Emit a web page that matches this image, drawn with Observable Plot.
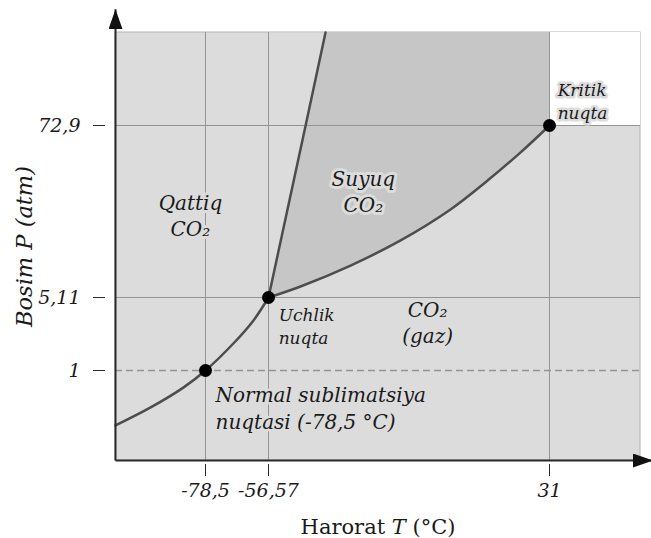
<!DOCTYPE html>
<html>
<head>
<meta charset="utf-8">
<script src="https://cdn.jsdelivr.net/npm/d3@7"></script>
<script src="https://cdn.jsdelivr.net/npm/@observablehq/plot@0.6"></script>
<style>
  html, body { margin: 0; padding: 0; background: white; }
</style>
</head>
<body>
<div id="chart"></div>
<script>
// ---- schematic axis breakpoints (data units) ----
const xBreaks = [-100, -78.5, -56.57, 31, 50];
const yBreaks = [0, 1, 5.11, 72.9, 100];
const xArrowTip = 52.6;
const yArrowTip = 106.8;

// ---- tick values ----
const xTicks = [-78.5, -56.57, 31];
const yTicks = [1, 5.11, 72.9];

// ---- phase boundary curves (temperature °C, pressure atm) ----
const sublimationT = [-100, -91.6, -83.8, -78.5, -68.8, -61.8, -56.57];
const sublimationP = [0.39, 0.59, 0.81, 1, 2.52, 3.82, 5.11];
const vaporizationT = [-56.57, -46.6, -31.0, -15.4, 0.15, 11.7, 22.0, 31];
const vaporizationP = [5.11, 9.45, 17.7, 27.6, 39.8, 51.2, 62.3, 72.9];
const meltingT = [-56.57, -45.0, -38.8];
const meltingP = [5.11, 72.9, 100];

// ---- special points ----
const pointNames = ["Normal sublimatsiya", "Uchlik", "Kritik"];
const pointT = [-78.5, -56.57, 31];
const pointP = [1, 5.11, 72.9];

// ---- labels ----
const labelText = ["Qattiq\nCO₂", "Suyuq\nCO₂", "CO₂\n(gaz)"];
const labelT = [-82.1, -27.0, -7.0];
const labelP = [37.8, 47.3, 3.75];
const noteText = ["Uchlik\nnuqta", "Kritik\nnuqta", "Normal sublimatsiya\nnuqtasi (-78,5 °C)"];
const noteT = [-53.4, 32.7, -75.0];
const noteP = [3.55, 80.2, 0.6];
const noteSize = [17, 17, 20];

const xLabel = "Harorat T (°C)";
const yLabel = "Bosim P (atm)";

const zip = (xs, ys) => xs.map((x, i) => ({x, y: ys[i]}));
const sublimation = zip(sublimationT, sublimationP);
const vaporization = zip(vaporizationT, vaporizationP);
const melting = zip(meltingT, meltingP);
const points = pointNames.map((n, i) => ({name: n, x: pointT[i], y: pointP[i]}));
const labels = labelText.map((t, i) => ({text: t, x: labelT[i], y: labelP[i]}));
const notes = noteText.map((t, i) => ({text: t, x: noteT[i], y: noteP[i], size: noteSize[i]}));

const xMin = xBreaks[0], xMax = xBreaks[xBreaks.length - 1];
const yMin = yBreaks[0], yMax = yBreaks[yBreaks.length - 1];

// solid-region wedge between the triple-point vertical and the melting line (above triple point)
const solidWedge = [...melting, {x: meltingT[0], y: yMax}];

const BG = "#dcdcdc";
const LIQ = "#c6c6c6";
const GRID = "#949494";
const CURVE = "#4d4d4d";
const FONT = "DejaVu Serif";
const fmt = d => String(d).replace(".", ",");

function arrowMarker(color, context) {
  const doc = (context && context.document) || document;
  const ns = "http://www.w3.org/2000/svg";
  const m = doc.createElementNS(ns, "marker");
  m.setAttribute("viewBox", "-20 -7 20 14");
  m.setAttribute("markerWidth", "20");
  m.setAttribute("markerHeight", "14");
  m.setAttribute("markerUnits", "userSpaceOnUse");
  m.setAttribute("orient", "auto");
  m.setAttribute("refX", "0");
  m.setAttribute("refY", "0");
  const p = doc.createElementNS(ns, "path");
  p.setAttribute("d", "M-20,-7L0,0L-20,7Z");
  p.setAttribute("fill", "#111");
  p.setAttribute("stroke", "none");
  m.appendChild(p);
  return m;
}

const axisLines = [
  {x1: xMin, y1: yMin, x2: xArrowTip, y2: yMin},
  {x1: xMin, y1: yMin, x2: xMin, y2: yArrowTip}
];

const chart = Plot.plot({
  width: 651,
  height: 538,
  marginLeft: 115,
  marginRight: 11,
  marginTop: 32,
  marginBottom: 78,
  style: {background: "white", color: "#1a1a1a", overflow: "visible"},
  x: {type: "linear", domain: xBreaks, range: [115, 205, 268, 549, 640]},
  y: {type: "linear", domain: yBreaks, range: [460, 370, 297, 125, 32]},
  marks: [
    // plot background
    Plot.rect([0], {x1: () => xMin, x2: () => xMax, y1: () => yMin, y2: () => yMax, fill: BG, stroke: "#b4b4b4", strokeWidth: 1}),
    // supercritical region (white)
    Plot.rect([0], {x1: () => pointT[2], x2: () => xMax, y1: () => pointP[2], y2: () => yMax, fill: "white"}),
    // liquid region
    Plot.areaY(vaporization, {x: "x", y1: "y", y2: () => yMax, curve: "catmull-rom", fill: LIQ}),
    Plot.line(solidWedge, {x: "x", y: "y", fill: BG, stroke: "none"}),
    // grid lines
    Plot.ruleX(xTicks, {y1: () => yMin, y2: () => yMax, stroke: GRID, strokeWidth: 1}),
    Plot.ruleY(yTicks.filter(d => d !== 1), {x1: () => xMin, x2: () => xMax, stroke: GRID, strokeWidth: 1}),
    Plot.ruleY([1], {x1: () => xMin, x2: () => xMax, stroke: GRID, strokeWidth: 1.5, strokeDasharray: "7,4"}),
    // phase boundaries
    Plot.line(sublimation, {x: "x", y: "y", curve: "catmull-rom", stroke: CURVE, strokeWidth: 2.5}),
    Plot.line(vaporization, {x: "x", y: "y", curve: "catmull-rom", stroke: CURVE, strokeWidth: 2.5}),
    Plot.line(melting, {x: "x", y: "y", stroke: CURVE, strokeWidth: 2.5}),
    // axes
    Plot.link(axisLines, {x1: "x1", y1: "y1", x2: "x2", y2: "y2", stroke: "#2a2a2a", strokeWidth: 2, markerEnd: arrowMarker}),
    Plot.axisX(xTicks, {tickSize: 12, tickPadding: 7, dy: 4, tickFormat: fmt, fontSize: 19, fontStyle: "italic", fontFamily: FONT, stroke: "#2a2a2a", label: null}),
    Plot.axisY(yTicks, {tickSize: 12, tickPadding: 13, dx: -10, tickFormat: fmt, fontSize: 19, fontStyle: "italic", fontFamily: FONT, stroke: "#2a2a2a", label: null}),
    // labels
    Plot.text(labels, {x: "x", y: "y", text: "text", fontFamily: FONT, fontStyle: "italic", fontSize: 20, lineHeight: 1.3, stroke: BG, strokeWidth: 6, fill: "#1a1a1a"}),
    Plot.text(notes, {x: "x", y: "y", text: "text", textAnchor: "start", fontFamily: FONT, fontStyle: "italic", fontSize: d => d.size, lineHeight: 1.35, stroke: BG, strokeWidth: 5, fill: "#1a1a1a"}),
    // special points
    Plot.dot(points, {x: "x", y: "y", r: 6.5, fill: "black", stroke: "none"}),
    // axis labels
    Plot.text([yLabel], {frameAnchor: "left", dx: -91, rotate: -90, textAnchor: "middle", fontFamily: FONT, fontStyle: "italic", fontSize: 22.5, fill: "#1a1a1a"}),
    Plot.text([xLabel], {frameAnchor: "bottom", dy: 73, fontFamily: FONT, fontSize: 21, fill: "#1a1a1a"})
  ]
});

// italicize the variable T in the x label
for (const t of chart.querySelectorAll("text")) {
  if (t.textContent === xLabel) {
    t.textContent = "";
    const ns = "http://www.w3.org/2000/svg";
    const parts = [["Harorat ", null], ["T", "italic"], [" (°C)", null]];
    for (const [s, style] of parts) {
      const ts = document.createElementNS(ns, "tspan");
      ts.textContent = s;
      if (style) ts.setAttribute("font-style", style);
      t.appendChild(ts);
    }
  }
}

document.getElementById("chart").appendChild(chart);
</script>
</body>
</html>
